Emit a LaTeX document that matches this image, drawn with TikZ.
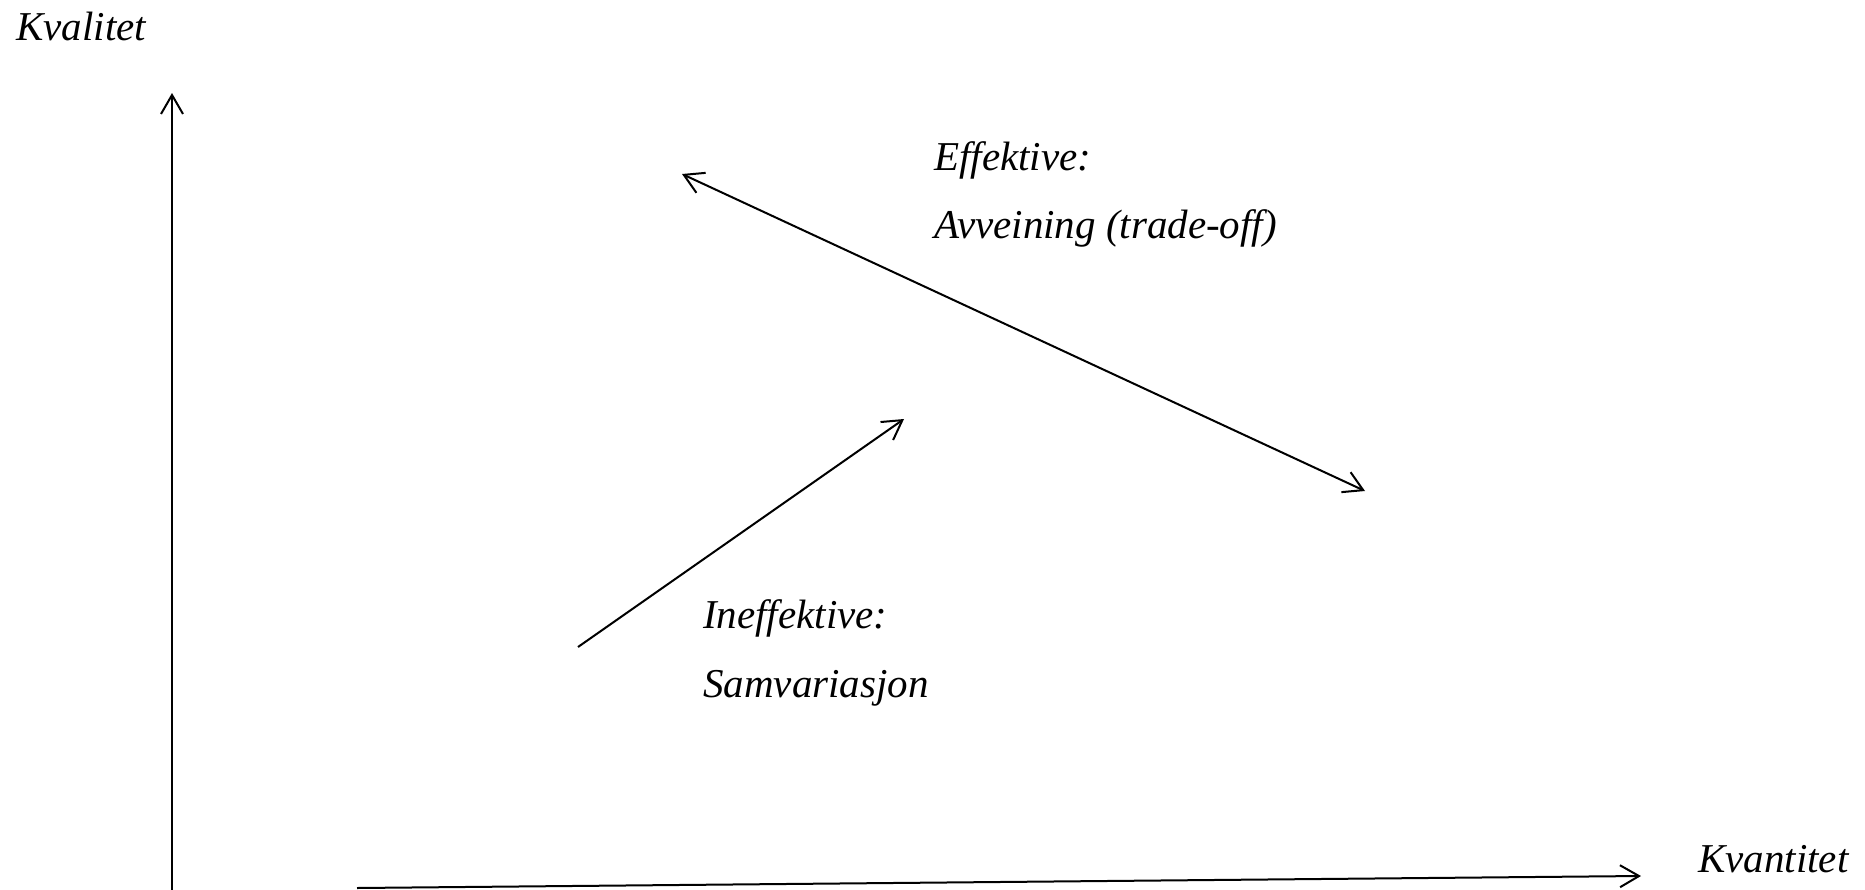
\documentclass[tikz,border=0pt]{standalone}
\usepackage{fontspec}
\setmainfont{Liberation Serif}
\usetikzlibrary{arrows.meta}
\begin{document}
\begin{tikzpicture}[x=1pt,y=-1pt,
  axisline/.style={line width=2pt,-{Straight Barb[length=19pt,width=22pt,line width=2pt]}},
  lbl/.style={anchor=base west,inner sep=0pt,font=\fontsize{41}{49}\selectfont\itshape}]
\useasboundingbox (0,0) rectangle (1865,889);
% axes
\coordinate (yo) at (172,892);
\coordinate (yt) at (172,93);
\coordinate (xo) at (357,888);
\coordinate (xt) at (1641,876);
\draw[axisline] (yo) -- (yt);
\draw[axisline] (xo) -- (xt);
\node[lbl] (kval) at (16,40) {Kvalitet};
\node[lbl] (kvan) at (1698,872) {Kvantitet};
% trade-off arrow
\coordinate (ta) at (682,174);
\coordinate (tb) at (1365,491);
\draw[line width=2pt,{Straight Barb[length=19pt,width=22pt,line width=2pt]}-{Straight Barb[length=19pt,width=22pt,line width=2pt]}] (ta) -- (tb);
\node[lbl] (eff) at (934,170) {Effektive:};
\node[lbl] (avv) at (934,238) {Avveining (trade-off)};
% covariation arrow
\coordinate (sa) at (578,647);
\coordinate (sb) at (904,419);
\draw[axisline] (sa) -- (sb);
\node[lbl] (ineff) at (703,628) {Ineffektive:};
\node[lbl] (samv) at (703,697) {Samvariasjon};
\end{tikzpicture}
\end{document}
